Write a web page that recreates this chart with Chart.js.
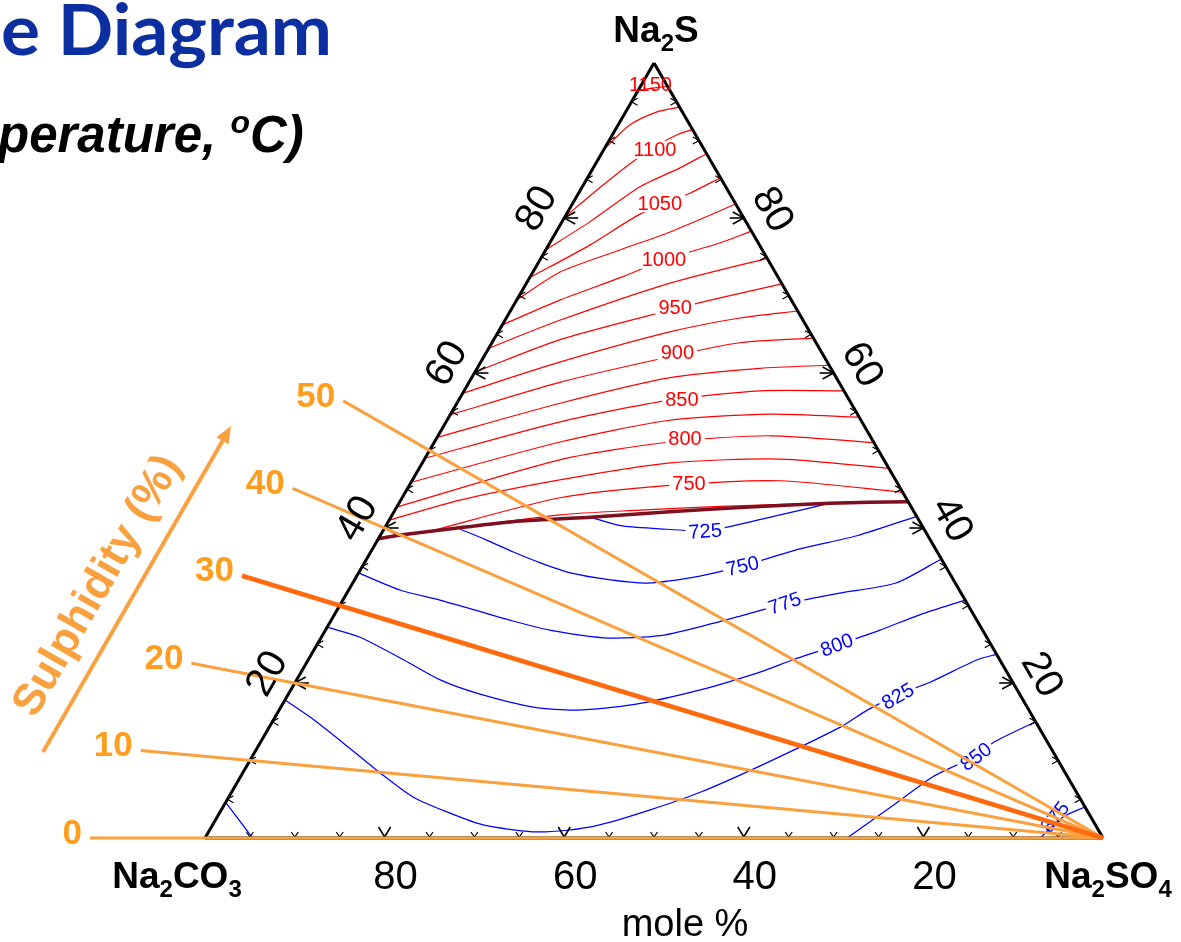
<!DOCTYPE html>
<html><head><meta charset="utf-8">
<script src="https://cdn.jsdelivr.net/npm/chart.js@4.4.1/dist/chart.umd.min.js"></script>
<style>html,body{margin:0;padding:0;background:#fff;overflow:hidden}canvas{display:block}</style>
</head><body>
<canvas id="c" width="1181" height="942" style="width:1181px;height:942px"></canvas>
<script>
// All compositions are [Na2SO4 mol%, Na2S mol%]; Na2CO3 = 100 - both.
const sulphidityLevels = [0, 10, 20, 30, 40, 50];
const axisTicks = [20, 40, 60, 80];

// liquidus boundary (dark red)
const boundary = [[0,38.6],[2.2,39.1],[8.1,40.0],[14.6,40.9],[22.2,41.4],[30.7,42.1],[39.3,42.7],[48.0,43.2],[56.6,43.4]];

// red isotherms (upper field)
const r1150 = [[0,96.5],[3.0,97.0]];
const r1125 = [[0,88.8],[1.3,92.0],[3.5,93.7],[5.7,94.3]];
const r1100 = [[0,80.1],[2.0,83.9],[3.9,87.1],[5.5,89.2],[7.3,90.8],[8.6,91.4]];
const r1075 = [[0,75.9],[3.1,79.5],[6.4,84.0],[9.7,86.5],[11.7,88.3]];
const r1050 = [[0,72.3],[4.6,76.5],[8.2,80.5],[12.4,83.2],[14.8,85.2]];
const r1025 = [[0,69.4],[3.0,73.0],[8.3,75.9],[12.7,78.2],[18.2,81.8]];
const r1000 = [[0,66.2],[4.8,69.4],[10.1,72.3],[13.8,74.6],[19.0,76.8],[21.7,78.3]];
const r975  = [[0,63.2],[6.1,66.8],[16.0,71.6],[25.2,74.8]];
const r950  = [[0,60.1],[7.4,64.3],[17.7,68.1],[22.5,69.7],[28.5,71.5]];
const r925  = [[0,57.4],[8.8,61.4],[19.1,65.3],[26.0,67.1],[32.0,68.0]];
const r900  = [[0,54.6],[10.1,58.8],[20.7,62.1],[27.6,63.9],[35.5,64.5]];
const r875  = [[0,51.7],[11.5,56.1],[22.1,59.4],[31.5,60.6],[39.0,61.0]];
const r850  = [[0,49.0],[12.7,53.7],[23.5,56.5],[33.0,57.7],[42.3,57.7]];
const r825  = [[0,45.9],[14.0,51.1],[24.8,53.9],[35.6,54.7],[45.7,54.3]];
const r800  = [[0,42.7],[15.1,48.8],[26.2,51.1],[37.0,51.9],[49.0,51.0]];
const r775  = [[0,41.0],[6.6,43.6],[16.4,46.2],[27.6,48.4],[39.6,48.9],[52.3,47.7]];
const r750  = [[5.3,39.6],[17.6,43.9],[29.0,45.5],[41.0,46.1],[55.4,44.6]];
const r725  = [[8.1,40.0],[18.7,41.7],[27.3,42.3],[36.0,42.8],[48.0,43.2]];

// blue isotherms (lower field)
const b725 = [[22.2,41.4],[26.1,40.3],[30.7,39.9],[35.9,39.6],[37.7,40.0],[43.2,41.7],[48.0,43.2]];
const b750 = [[8.1,40.0],[12.0,38.5],[15.9,36.9],[19.6,35.5],[23.6,34.2],[28.5,33.3],[32.8,32.9],[38.2,33.8],[42.3,35.1],[47.6,37.3],[53.1,39.0],[58.5,41.5]];
const b775 = [[0,34.2],[5.7,32.0],[10.8,30.7],[15.4,29.4],[19.9,28.1],[25.1,26.8],[32.1,25.8],[37.6,26.1],[41.9,27.4],[45.7,28.8],[49.5,30.2],[54.9,31.6],[60.5,32.9],[64.0,36.0]];
const b800 = [[0,27.2],[4.3,25.9],[10.6,23.0],[16.0,20.4],[20.9,18.7],[28.1,16.9],[33.2,16.5],[39.1,17.2],[45.6,19.1],[51.1,21.4],[54.0,23.0],[57.9,24.9],[61.7,26.8],[65.2,28.8],[69.3,30.7]];
const b825 = [[0,17.8],[3.9,15.6],[9.2,12.3],[15.3,8.4],[20.5,5.3],[25.7,3.2],[30.1,1.7],[36.1,0.8],[39.8,1.0],[43.1,1.7],[47.7,3.6],[52.2,5.9],[57.7,9.7],[63.6,14.3],[65.5,16.5],[67.9,18.5],[70.7,20.1],[74.5,23.0],[76.3,23.7]];
const b850 = [[71.5,0],[74.1,3.6],[77.1,7.9],[78.7,9.2],[80.7,10.5],[81.6,12.3],[85.0,15.0]];
const b875 = [[93.0,0],[94.2,2.7],[96.0,4.0]];
const bCorner = [[0,4.6],[5.3,0]];

// contour label anchors
const redLabels = [[1150,[1.0,97.2]],[1100,[5.7,88.8]],[1050,[9.7,81.9]],[1000,[13.8,74.6]],[950,[18.1,68.5]],[900,[21.3,62.6]],[850,[24.8,56.6]],[800,[27.7,51.5]],[750,[31.0,45.8]]];
const blueLabels = [[725,[35.9,39.6]],[750,[42.3,35.1]],[775,[49.4,30.3]],[800,[57.9,24.9]],[825,[68.0,18.3]],[850,[80.6,10.5]],[875,[93.3,2.7]]];

// ---- styles ----
const blueLabelAngle = {725:-4, 750:-13, 775:-19, 800:-21, 825:-30, 850:-37, 875:-52};
const LEADER_EXT = 1.128;
const FONT = '"Liberation Sans", Arial, Helvetica, sans-serif';
const ORANGE_LINE = '#F9A03F', ORANGE_BOLD = '#FF6A0F', ORANGE_TEXT = '#FF9D1E';

const toXY = p => ({x: p[0] + p[1] / 2, y: p[1]});
const line = (pts, color, width, extra) => Object.assign({
  data: pts.map(toXY), showLine: true, borderColor: color, borderWidth: width,
  pointRadius: 0, pointHoverRadius: 0, fill: false, tension: 0.25
}, extra || {});

const datasets = [];
// orange sulphidity leader lines (top of drawing order)
const sOrder = [30, 0, 10, 20, 40, 50];
sOrder.forEach(S => {
  const pts = [[100, 0], [100 - 100 * LEADER_EXT, S * LEADER_EXT]];
  datasets.push(line(pts, S === 30 ? ORANGE_BOLD : ORANGE_LINE, S === 30 ? 4.5 : 3, {tension: 0}));
});
const EDGE_INDEX = datasets.length;
datasets.push(line([[0,0],[100,0]], '#000', 3, {tension: 0}));
datasets.push(line([[0,0],[0,100]], '#000', 3, {tension: 0}));
datasets.push(line([[100,0],[0,100]], '#000', 3, {tension: 0}));
datasets.push(line(boundary, '#7D0F1F', 3.5, {tension: 0.15}));
[r1150,r1125,r1100,r1075,r1050,r1025,r1000,r975,r950,r925,r900,r875,r850,r825,r800,r775,r750,r725]
  .forEach(c => datasets.push(line(c, '#FF0000', 1.2)));
[b725,b750,b775,b800,b825,b850,b875,bCorner]
  .forEach(c => datasets.push(line(c, '#0000FF', 1.25)));

function pix(chart, comp) {
  const p = toXY(comp);
  return [chart.scales.x.getPixelForValue(p.x), chart.scales.y.getPixelForValue(p.y)];
}

function chem(ctx, parts, cx, baseY, fs) {
  const sub = Math.round(fs * 0.66);
  let w = 0;
  parts.forEach(([t, s]) => { ctx.font = `bold ${s ? sub : fs}px ${FONT}`; w += ctx.measureText(t).width; });
  let x = cx - w / 2;
  ctx.textAlign = 'left'; ctx.textBaseline = 'alphabetic';
  parts.forEach(([t, s]) => {
    ctx.font = `bold ${s ? sub : fs}px ${FONT}`;
    ctx.fillText(t, x, baseY + (s ? fs * 0.24 : 0));
    x += ctx.measureText(t).width;
  });
}

const underlay = {
  id: 'underlay',
  afterDatasetDraw(chart, args) {
    if (args.index !== EDGE_INDEX) return;
    const ctx = chart.ctx;
    ctx.save();
    // ternary ticks
    ctx.strokeStyle = '#000';
    for (let v = 5; v < 100; v += 5) {
      const big = v % 20 === 0;
      ctx.lineWidth = big ? 1.6 : 1.2;
      const h = big ? 11 : 6, w = big ? 6 : 3.5;
      let [x, y] = pix(chart, [v, 0]);
      ctx.beginPath(); ctx.moveTo(x - w, y - h); ctx.lineTo(x, y - 1); ctx.lineTo(x + w, y - h); ctx.stroke();
      [x, y] = pix(chart, [0, v]);
      ctx.beginPath(); ctx.moveTo(x + h, y - w); ctx.lineTo(x, y); ctx.lineTo(x + h, y + w); ctx.stroke();
      if (big) { ctx.beginPath(); ctx.moveTo(x, y); ctx.lineTo(x + 14, y); ctx.stroke(); }
      [x, y] = pix(chart, [100 - v, v]);
      ctx.beginPath(); ctx.moveTo(x - h, y - w); ctx.lineTo(x, y); ctx.lineTo(x - h, y + w); ctx.stroke();
      if (big) { ctx.beginPath(); ctx.moveTo(x, y); ctx.lineTo(x - 14, y); ctx.stroke(); }
    }
    // contour labels
    const drawLab = (txt, comp, color, ang, bg) => {
      const [x, y] = pix(chart, comp);
      ctx.save(); ctx.translate(x, y); ctx.rotate(ang * Math.PI / 180);
      ctx.font = `20px ${FONT}`; ctx.textAlign = 'center'; ctx.textBaseline = 'middle';
      const w = ctx.measureText(txt).width;
      if (bg) { ctx.fillStyle = '#fff'; ctx.fillRect(-w / 2 - 3, -9, w + 6, 18); }
      ctx.fillStyle = color; ctx.fillText(txt, 0, 1);
      ctx.restore();
    };
    redLabels.forEach(([t, c]) => drawLab(String(t), c, '#FF0000', 0, t !== 1150));
    blueLabels.forEach(([t, c]) => drawLab(String(t), c, '#0000FF', blueLabelAngle[t], t !== 875));
    ctx.restore();
  }
};

const overlay = {
  id: 'overlay',
  afterDraw(chart) {
    const ctx = chart.ctx;
    ctx.save();
    ctx.fillStyle = '#000';
    // vertex labels
    chem(ctx, [['Na',0],['2',1],['S',0]], 656, 42, 37);
    chem(ctx, [['Na',0],['2',1],['CO',0],['3',1]], 177, 888, 37);
    chem(ctx, [['Na',0],['2',1],['SO',0],['4',1]], 1108, 888, 37);
    // axis numbers
    ctx.font = `40px ${FONT}`; ctx.textAlign = 'center'; ctx.textBaseline = 'middle';
    axisTicks.forEach(v => {
      let [x, y] = pix(chart, [100 - v, 0]);
      ctx.fillText(String(v), x + 11, y + 40);
      [x, y] = pix(chart, [0, v]);
      ctx.save(); ctx.translate(x - 27, y - 9); ctx.rotate(-Math.PI / 3); ctx.fillText(String(v), 0, 0); ctx.restore();
      [x, y] = pix(chart, [100 - v, v]);
      ctx.save(); ctx.translate(x + 28, y - 8); ctx.rotate(Math.PI / 3); ctx.fillText(String(v), 0, 0); ctx.restore();
    });
    ctx.font = `38px ${FONT}`; ctx.textBaseline = 'alphabetic';
    ctx.fillText('mole %', 685, 936);
    // sulphidity labels
    ctx.fillStyle = ORANGE_TEXT; ctx.font = `bold 35px ${FONT}`;
    ctx.textAlign = 'right'; ctx.textBaseline = 'middle';
    sulphidityLevels.forEach(S => {
      const [x, y] = pix(chart, [100 - 100 * LEADER_EXT, S * LEADER_EXT]);
      ctx.fillText(String(S), x - 8, y - 4);
    });
    // sulphidity arrow and title
    ctx.strokeStyle = ORANGE_LINE; ctx.fillStyle = ORANGE_LINE; ctx.lineWidth = 4;
    const ax0 = 43, ay0 = 752, ax1 = 231, ay1 = 426;
    const ang = Math.atan2(ay1 - ay0, ax1 - ax0);
    ctx.beginPath(); ctx.moveTo(ax0, ay0);
    ctx.lineTo(ax1 - 12 * Math.cos(ang), ay1 - 12 * Math.sin(ang)); ctx.stroke();
    ctx.beginPath(); ctx.moveTo(ax1, ay1);
    ctx.lineTo(ax1 - 17 * Math.cos(ang) + 7 * Math.sin(ang), ay1 - 17 * Math.sin(ang) - 7 * Math.cos(ang));
    ctx.lineTo(ax1 - 17 * Math.cos(ang) - 7 * Math.sin(ang), ay1 - 17 * Math.sin(ang) + 7 * Math.cos(ang));
    ctx.closePath(); ctx.fill();
    ctx.save(); ctx.translate(98, 586); ctx.rotate(-Math.PI / 3);
    ctx.font = `bold 44px ${FONT}`; ctx.textAlign = 'center'; ctx.textBaseline = 'middle';
    ctx.fillText('Sulphidity (%)', 0, 0);
    ctx.restore();
    // title fragments
    ctx.fillStyle = '#0B2FA0'; ctx.textAlign = 'left'; ctx.textBaseline = 'alphabetic';
    ctx.font = `bold 70px Lato, ${FONT}`;
    const tw = ctx.measureText('e Diagram').width;
    ctx.save(); ctx.translate(1, 55); ctx.scale(331 / tw, 1); ctx.fillText('e Diagram', 0, 0); ctx.restore();
    ctx.fillStyle = '#000';
    ctx.font = `italic bold 51px ${FONT}`;
    let x = -2;
    ctx.fillText('perature, ', x, 152); x += ctx.measureText('perature, ').width;
    ctx.font = `italic bold 32px ${FONT}`;
    ctx.fillText('o', x, 133); x += ctx.measureText('o').width;
    ctx.font = `italic bold 51px ${FONT}`;
    ctx.fillText('C)', x, 152);
    ctx.restore();
  }
};

new Chart(document.getElementById('c'), {
  type: 'scatter',
  data: {datasets},
  options: {
    responsive: false, animation: false, devicePixelRatio: 1,
    layout: {padding: 0},
    plugins: {legend: {display: false}, tooltip: {enabled: false}},
    events: [],
    scales: {
      x: {type: 'linear', min: -22.829, max: 108.686, display: false},
      y: {type: 'linear', min: -13.419, max: 108.129, display: false}
    }
  },
  plugins: [underlay, overlay]
});
</script>
</body></html>
